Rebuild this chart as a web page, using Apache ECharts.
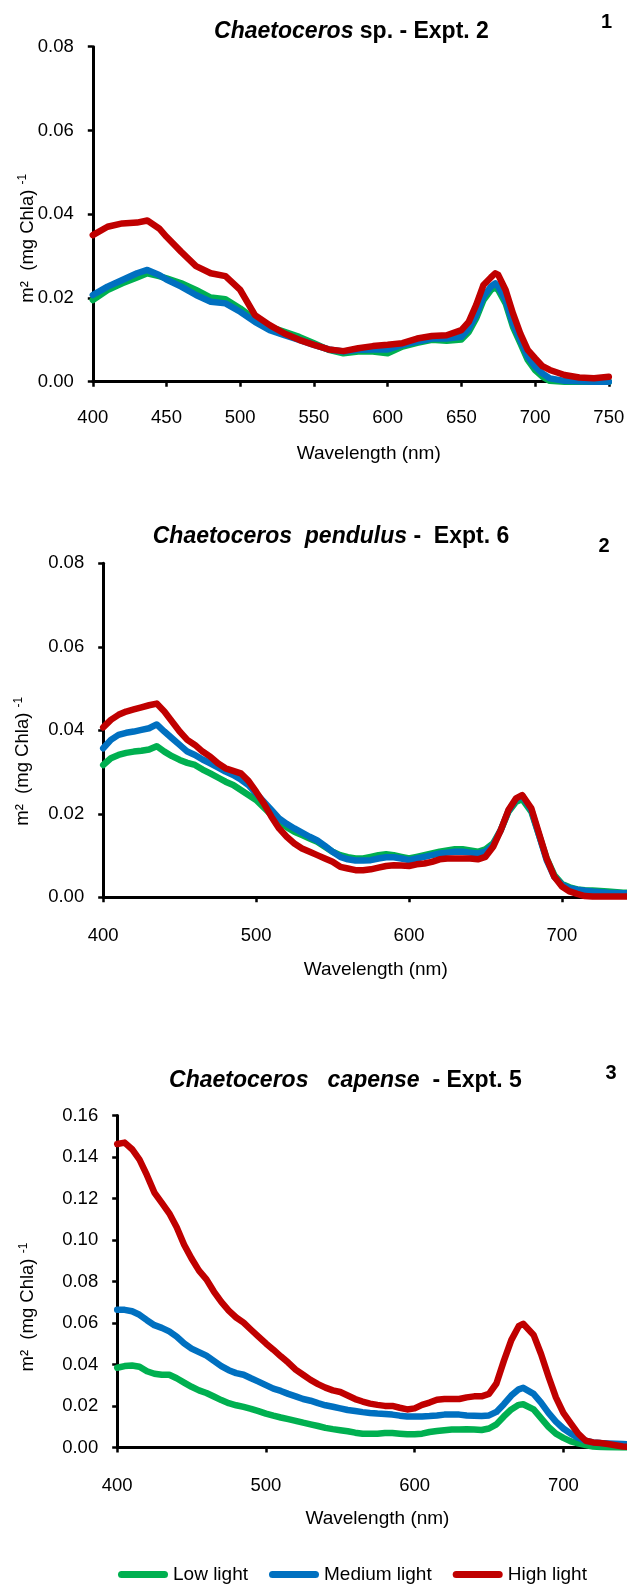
<!DOCTYPE html>
<html>
<head>
<meta charset="utf-8">
<script src="https://cdn.jsdelivr.net/npm/echarts@6.0.0/dist/echarts.min.js"></script>
<style>
html,body{margin:0;padding:0;background:#fff;}
#c{width:627px;height:1584px;}
</style>
</head>
<body>
<div id="c"></div>
<script>
// ---------- DATA ----------
const seriesNames = ['Low light', 'Medium light', 'High light'];
const panelTitles = [
  ['Chaetoceros', ' sp. - Expt. 2'],
  ['Chaetoceros  pendulus', ' -  Expt. 6'],
  ['Chaetoceros   capense', '  - Expt. 5']
];
const panelNumbers = ['1', '2', '3'];
const xTitle = 'Wavelength (nm)';

// Panel 1: Chaetoceros sp. - Expt. 2
const wl1 = [400,410,420,430,437,445,450,460,470,480,490,500,510,520,530,540,550,560,570,580,590,600,610,620,630,640,650,655,660,665,670,673,675,680,685,690,695,700,705,710,720,730,740,750];
const low1 = [0.0195,0.0219,0.0235,0.0249,0.0259,0.0252,0.0247,0.0235,0.0219,0.0201,0.0197,0.0175,0.0149,0.0131,0.0119,0.0107,0.0092,0.0076,0.0068,0.0072,0.0072,0.0068,0.0084,0.0093,0.0100,0.0098,0.0101,0.0119,0.0151,0.0195,0.0219,0.0225,0.0219,0.0187,0.0131,0.0092,0.0052,0.0028,0.0012,0.0002,0,0,0,0];
const med1 = [0.0207,0.0227,0.0243,0.0259,0.0267,0.0255,0.0244,0.0227,0.0207,0.0191,0.0187,0.0167,0.0143,0.0123,0.0111,0.0100,0.0088,0.0077,0.0072,0.0076,0.0077,0.0077,0.0088,0.0096,0.0103,0.0103,0.0107,0.0127,0.0159,0.0203,0.0227,0.0235,0.0227,0.0195,0.0139,0.0100,0.0060,0.0036,0.0020,0.0008,0.0002,0.0001,0,0];
const high1 = [0.0350,0.0370,0.0378,0.0380,0.0385,0.0366,0.0346,0.0310,0.0276,0.0259,0.0252,0.0219,0.0159,0.0135,0.0115,0.0100,0.0088,0.0077,0.0073,0.0080,0.0085,0.0088,0.0092,0.0103,0.0109,0.0111,0.0123,0.0143,0.0183,0.0231,0.0249,0.0259,0.0255,0.0219,0.0163,0.0115,0.0076,0.0056,0.0037,0.0028,0.0016,0.0010,0.0008,0.0012];

// Panel 2: Chaetoceros pendulus - Expt. 6
const wl2 = [400,405,410,415,420,425,430,435,440,445,450,455,460,465,470,475,480,485,490,495,500,505,510,515,520,525,530,535,540,545,550,555,560,565,570,575,580,585,590,595,600,605,610,615,620,625,630,635,640,645,650,655,660,665,670,674,680,685,690,695,700,705,710,715,720,730,740,750];
const low2 = [0.0317,0.0333,0.0341,0.0346,0.0349,0.0351,0.0354,0.0362,0.0349,0.0338,0.0329,0.0322,0.0317,0.0306,0.0297,0.0287,0.0277,0.0269,0.0257,0.0245,0.0233,0.0215,0.0197,0.0181,0.0168,0.0157,0.0149,0.0141,0.0133,0.0121,0.0109,0.0101,0.0096,0.0093,0.0093,0.0097,0.0101,0.0103,0.0101,0.0097,0.0093,0.0097,0.0101,0.0105,0.0109,0.0112,0.0115,0.0115,0.0112,0.0109,0.0115,0.0129,0.0161,0.0205,0.0229,0.0235,0.0205,0.0149,0.0093,0.0053,0.0032,0.0024,0.0019,0.0017,0.0016,0.0014,0.0011,0.0010];
const med2 = [0.0357,0.0377,0.0389,0.0394,0.0397,0.0401,0.0405,0.0414,0.0397,0.0381,0.0365,0.0349,0.0341,0.0330,0.0321,0.0311,0.0301,0.0293,0.0282,0.0269,0.0249,0.0229,0.0209,0.0189,0.0176,0.0165,0.0155,0.0145,0.0136,0.0123,0.0109,0.0097,0.0091,0.0088,0.0088,0.0089,0.0093,0.0096,0.0096,0.0093,0.0089,0.0093,0.0097,0.0101,0.0105,0.0107,0.0109,0.0109,0.0107,0.0105,0.0109,0.0125,0.0161,0.0207,0.0235,0.0243,0.0209,0.0149,0.0089,0.0049,0.0030,0.0022,0.0018,0.0016,0.0014,0.0011,0.0010,0.0009];
const high2 = [0.0407,0.0425,0.0437,0.0445,0.0450,0.0455,0.0460,0.0464,0.0445,0.0421,0.0397,0.0377,0.0365,0.0349,0.0337,0.0321,0.0309,0.0303,0.0297,0.0279,0.0253,0.0225,0.0193,0.0165,0.0145,0.0129,0.0117,0.0109,0.0101,0.0093,0.0085,0.0073,0.0069,0.0065,0.0065,0.0067,0.0071,0.0075,0.0077,0.0076,0.0075,0.0079,0.0081,0.0085,0.0091,0.0093,0.0093,0.0093,0.0093,0.0091,0.0097,0.0121,0.0161,0.0209,0.0237,0.0245,0.0213,0.0153,0.0093,0.0049,0.0026,0.0014,0.0008,0.0003,0.0002,0.0002,0.0002,0.0002];

// Panel 3: Chaetoceros capense - Expt. 5
const wl3 = [400,405,410,415,420,425,430,435,440,445,450,455,460,465,470,475,480,485,490,495,500,505,510,515,520,525,530,535,540,545,550,555,560,565,570,575,580,585,590,595,600,605,610,615,620,625,630,635,640,645,650,655,660,665,670,673,680,685,690,695,700,705,710,715,720,725,730,740,750];
const low3 = [0.0385,0.0393,0.0396,0.0390,0.0368,0.0356,0.0351,0.0351,0.0334,0.0313,0.0293,0.0276,0.0263,0.0246,0.0229,0.0214,0.0204,0.0196,0.0187,0.0176,0.0164,0.0154,0.0145,0.0137,0.0129,0.0120,0.0112,0.0104,0.0095,0.0089,0.0084,0.0079,0.0072,0.0067,0.0067,0.0067,0.0070,0.0070,0.0067,0.0064,0.0064,0.0067,0.0075,0.0080,0.0084,0.0087,0.0087,0.0089,0.0087,0.0085,0.0092,0.0112,0.0150,0.0184,0.0206,0.0209,0.0184,0.0142,0.0100,0.0067,0.0047,0.0030,0.0020,0.0012,0.0005,0.0003,0.0002,0.0001,0];
const med3 = [0.0664,0.0664,0.0657,0.0640,0.0614,0.0590,0.0577,0.0560,0.0535,0.0502,0.0477,0.0460,0.0443,0.0418,0.0393,0.0373,0.0359,0.0351,0.0334,0.0318,0.0301,0.0284,0.0273,0.0259,0.0247,0.0234,0.0226,0.0214,0.0204,0.0197,0.0189,0.0181,0.0176,0.0171,0.0167,0.0164,0.0162,0.0159,0.0154,0.0150,0.0150,0.0150,0.0152,0.0155,0.0159,0.0159,0.0159,0.0155,0.0154,0.0152,0.0155,0.0172,0.0209,0.0251,0.0281,0.0288,0.0259,0.0217,0.0167,0.0125,0.0092,0.0067,0.0047,0.0033,0.0025,0.0022,0.0020,0.0017,0.0015];
const high3 = [0.1463,0.1470,0.1438,0.1388,0.1313,0.1229,0.1179,0.1129,0.1062,0.0978,0.0911,0.0853,0.0811,0.0752,0.0702,0.0660,0.0627,0.0602,0.0568,0.0535,0.0502,0.0472,0.0440,0.0410,0.0376,0.0351,0.0326,0.0306,0.0289,0.0276,0.0268,0.0251,0.0234,0.0222,0.0212,0.0206,0.0201,0.0201,0.0192,0.0184,0.0189,0.0206,0.0217,0.0231,0.0234,0.0234,0.0234,0.0242,0.0247,0.0247,0.0259,0.0309,0.0418,0.0518,0.0585,0.0597,0.0543,0.0451,0.0343,0.0242,0.0167,0.0117,0.0067,0.0033,0.0025,0.0022,0.0017,0.0005,0.0003];

// ---------- STYLE / LAYOUT ----------
const FONT = '"Liberation Sans", Arial, Helvetica, sans-serif';
const colors = ['#00B050', '#0070C0', '#C00000'];
const panels = [
  {wl: wl1, vals: [low1, med1, high1], grid: {left: 92.8, top: 46.7, width: 516, height: 335},
   yMax: 0.08, xInt: 50, labMargin: 27, nameGap: 63, namePadL: 36, yNameGap: 54, yNamePad: 48,
   title: {x: 351.5, y: 32}, num: {x: 606.5, y: 22}},
  {wl: wl2, vals: [low2, med2, high2], grid: {left: 103.2, top: 563.3, width: 535.2, height: 334},
   yMax: 0.08, xInt: 100, labMargin: 29, nameGap: 63, namePadL: 10, yNameGap: 69, yNamePad: 62,
   title: {x: 331, y: 537}, num: {x: 604, y: 546}},
  {wl: wl3, vals: [low3, med3, high3], grid: {left: 117.2, top: 1115.6, width: 520.5, height: 332},
   yMax: 0.16, xInt: 100, labMargin: 29, nameGap: 62, namePadL: 0, yNameGap: 78, yNamePad: 51,
   title: {x: 345.5, y: 1081}, num: {x: 611, y: 1073}}
];

const grids = [], xAxes = [], yAxes = [], series = [], graphics = [];
panels.forEach((p, i) => {
  grids.push(Object.assign({containLabel: false, outerBoundsMode: 'none'}, p.grid));
  xAxes.push({
    type: 'value', gridIndex: i, min: 400, max: 750, interval: p.xInt,
    axisLine: {show: true, onZero: false, lineStyle: {color: '#000', width: 3}},
    axisTick: {show: true, length: 5, lineStyle: {color: '#000', width: 2.5}},
    splitLine: {show: false},
    axisLabel: {color: '#000', fontSize: 18.5, fontFamily: FONT, margin: p.labMargin,
                showMaxLabel: i === 0},
    name: xTitle, nameLocation: 'middle', nameGap: p.nameGap, nameMoveOverlap: false,
    nameTextStyle: {color: '#000', fontSize: 19, fontFamily: FONT, padding: [0, 0, 0, p.namePadL]}
  });
  yAxes.push({
    type: 'value', gridIndex: i, min: 0, max: p.yMax, interval: 0.02,
    axisLine: {show: true, lineStyle: {color: '#000', width: 3}},
    axisTick: {show: true, length: 5, lineStyle: {color: '#000', width: 2.5}},
    splitLine: {show: false},
    axisLabel: {color: '#000', fontSize: 18.5, fontFamily: FONT, margin: 19,
                formatter: v => v.toFixed(2)},
    name: '{m|m\u00B2  (mg Chla) }{s|-1}', nameLocation: 'middle', nameRotate: 90,
    nameGap: p.yNameGap, nameMoveOverlap: false,
    nameTextStyle: {color: '#000', fontSize: 18.5, fontFamily: FONT, lineHeight: 22,
      padding: [0, p.yNamePad, 0, 0],
      rich: {
        m: {fontSize: 18.5, fontFamily: FONT, color: '#000', lineHeight: 22},
        s: {fontSize: 12, fontFamily: FONT, color: '#000', lineHeight: 12, verticalAlign: 'top'}
      }}
  });
  p.vals.forEach((arr, k) => {
    series.push({
      name: seriesNames[k], type: 'line', xAxisIndex: i, yAxisIndex: i,
      data: p.wl.map((w, j) => [w, arr[j]]),
      showSymbol: false, symbol: 'none',
      lineStyle: {color: colors[k], width: 6.5, join: 'round', cap: 'round'},
      itemStyle: {color: colors[k]},
      z: 2 + k, animation: false
    });
  });
  graphics.push({
    type: 'text', x: p.title.x, y: p.title.y,
    style: {
      text: '{i|' + panelTitles[i][0] + '}{b|' + panelTitles[i][1] + '}',
      align: 'center', verticalAlign: 'middle',
      font: 'bold 23px ' + FONT, fill: '#000',
      rich: {
        i: {fontStyle: 'italic', fontWeight: 'bold', fontSize: 23, fontFamily: FONT, fill: '#000', color: '#000'},
        b: {fontWeight: 'bold', fontSize: 23, fontFamily: FONT, fill: '#000', color: '#000'}
      }
    }
  });
  graphics.push({
    type: 'text', x: p.num.x, y: p.num.y,
    style: {text: panelNumbers[i], align: 'center', verticalAlign: 'middle',
            font: 'bold 20px ' + FONT, fill: '#000'}
  });
});

const capsule = 'path://M3.5,0 L46.5,0 A3.5,3.5 0 0 1 46.5,7 L3.5,7 A3.5,3.5 0 0 1 3.5,0 Z';

const chart = echarts.init(document.getElementById('c'), null, {renderer: 'canvas'});
chart.setOption({
  animation: false,
  backgroundColor: '#ffffff',
  grid: grids,
  xAxis: xAxes,
  yAxis: yAxes,
  series: series,
  legend: {
    data: seriesNames.map((n, k) => ({name: n, icon: capsule, itemStyle: {color: colors[k]}})),
    left: 113, top: 1560, itemWidth: 50, itemHeight: 7, itemGap: 21,
    textStyle: {color: '#000', fontSize: 19, fontFamily: FONT},
    selectedMode: false
  },
  graphic: graphics
});
</script>
</body>
</html>
